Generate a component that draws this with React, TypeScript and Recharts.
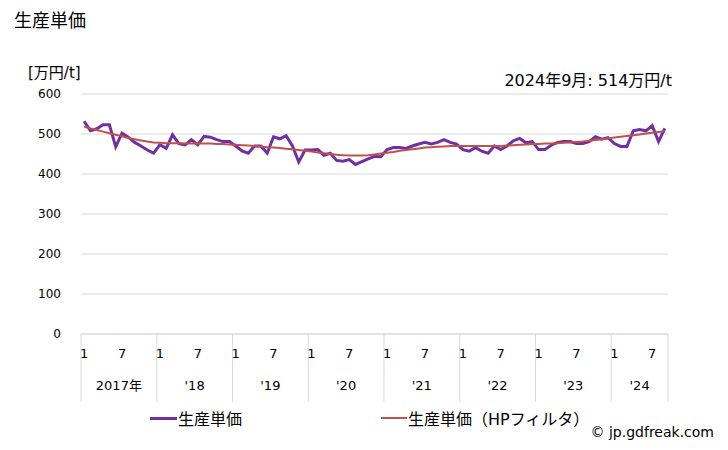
import { LineChart, Line, XAxis, YAxis, CartesianGrid } from "recharts";

const years = ["2017年", "'18", "'19", "'20", "'21", "'22", "'23", "'24"];
const monthsInYear = [12, 12, 12, 12, 12, 12, 12, 9];
const yTicks = [0, 100, 200, 300, 400, 500, 600];

// 生産単価 (万円/t), monthly from 2017-01
const unitPrice = [
  532, 508, 513, 523, 523, 468, 502, 492, 479, 470, 460, 452,
  473, 464, 498, 476, 473, 486, 473, 494, 492, 486, 481, 481,
  470, 458, 452, 470, 470, 452, 493, 488, 496, 470, 430, 460,
  460, 461, 447, 452, 434, 432, 436, 424, 431, 438, 444, 443,
  461, 466, 466, 464, 470, 475, 479, 475, 479, 486, 479, 475,
  461, 457, 466, 457, 452, 470, 461, 470, 483, 489, 478, 481,
  461, 461, 472, 479, 481, 481, 476, 476, 481, 493, 487, 491,
  476, 469, 469, 508, 511, 508, 521, 481, 514,
];

// 生産単価 (HPフィルタ)
const unitPriceHP = [
  518, 514, 510, 506, 502, 498, 494, 490, 487, 484, 481, 479,
  478, 477, 477, 477, 476, 476, 476, 476, 476, 475, 475, 474,
  473, 472, 471, 470, 469, 467, 466, 465, 463, 462, 460, 458,
  456, 454, 452, 450, 448, 447, 446, 446, 446, 447, 449, 451,
  453, 455, 458, 460, 462, 464, 466, 467, 468, 469, 470, 470,
  470, 470, 470, 470, 470, 470, 470, 471, 472, 473, 474, 475,
  475, 476, 476, 477, 478, 479, 480, 481, 483, 485, 487, 489,
  491, 493, 495, 497, 499, 501, 503, 505, 507,
];

interface Row {
  key: string;
  month: number;
  year: string;
  yearMonths: number;
  price: number;
  hp: number;
}

const rows: Row[] = [];
years.forEach((y, yi) => {
  for (let m = 1; m <= monthsInYear[yi]; m++) {
    const i = rows.length;
    rows.push({
      key: `${yi}-${m}`,
      month: m,
      year: y,
      yearMonths: monthsInYear[yi],
      price: unitPrice[i],
      hp: unitPriceHP[i],
    });
  }
});

const FONT = "'DejaVu Sans', 'Noto Sans CJK JP', sans-serif";
const GRID = "#d9d9d9";

// month labels (1 / 7), year labels and the year separator lines
const MonthTick = (props: any) => {
  const { x, y, payload, index } = props;
  const row = rows[index];
  if (!row) return null;
  const half = payload && payload.offset ? payload.offset : 3.16;
  const left = x - half;
  const isLast = index === rows.length - 1;
  return (
    <g>
      {row.month === 1 && (
        <line x1={left} y1={y} x2={left} y2={y + 68} stroke={GRID} />
      )}
      {isLast && (
        <line x1={x + half} y1={y} x2={x + half} y2={y + 68} stroke={GRID} />
      )}
      {(row.month === 1 || row.month === 7) && (
        <text x={x} y={y + 24} textAnchor="middle" fontSize={13} fill="#000" fontFamily={FONT}>
          {row.month}
        </text>
      )}
      {row.month === 1 && (
        <text
          x={left + row.yearMonths * half}
          y={y + 56}
          textAnchor="middle"
          fontSize={13}
          fill="#000"
          fontFamily={FONT}
        >
          {row.year}
        </text>
      )}
    </g>
  );
};

const App = () => {
  return (
    <div style={{ position: "relative", width: 728, height: 450, fontFamily: FONT, background: "#fff" }}>
      <style>{"body{margin:0}"}</style>
      <div style={{ position: "absolute", left: 14, top: 6, fontSize: 18 }}>生産単価</div>
      <div style={{ position: "absolute", left: 28, top: 61, fontSize: 15 }}>[万円/t]</div>
      <div style={{ position: "absolute", right: 56, top: 67, fontSize: 16 }}>2024年9月: 514万円/t</div>
      <LineChart
        width={728}
        height={450}
        data={rows}
        margin={{ top: 94, right: 60, bottom: 46, left: 0 }}
      >
        <CartesianGrid vertical={false} stroke={GRID} />
        <XAxis
          dataKey="key"
          scale="band"
          interval={0}
          height={70}
          tickLine={false}
          tickSize={0}
          tickMargin={0}
          axisLine={{ stroke: GRID }}
          tick={<MonthTick />}
        />
        <YAxis
          width={81}
          domain={[0, 600]}
          ticks={yTicks}
          axisLine={false}
          tickLine={false}
          tickSize={0}
          tickMargin={20}
          tick={{ fontSize: 12, fill: "#000", fontFamily: FONT }}
        />
        <Line
          dataKey="price"
          stroke="#7030a0"
          strokeWidth={3}
          dot={false}
          isAnimationActive={false}
        />
        <Line
          dataKey="hp"
          stroke="#c0504d"
          strokeWidth={2}
          dot={false}
          isAnimationActive={false}
        />
      </LineChart>
      <div style={{ position: "absolute", left: 150, top: 406, fontSize: 16, display: "flex", alignItems: "center" }}>
        <span style={{ display: "inline-block", width: 27, height: 3, background: "#7030a0", marginRight: 1 }} />
        生産単価
      </div>
      <div style={{ position: "absolute", left: 381, top: 406, fontSize: 16, display: "flex", alignItems: "center" }}>
        <span style={{ display: "inline-block", width: 26, height: 2, background: "#c0504d", marginRight: 1 }} />
        生産単価（HPフィルタ）
      </div>
      <div style={{ position: "absolute", right: 14, top: 424, fontSize: 14 }}>© jp.gdfreak.com</div>
    </div>
  );
};

export default App;
